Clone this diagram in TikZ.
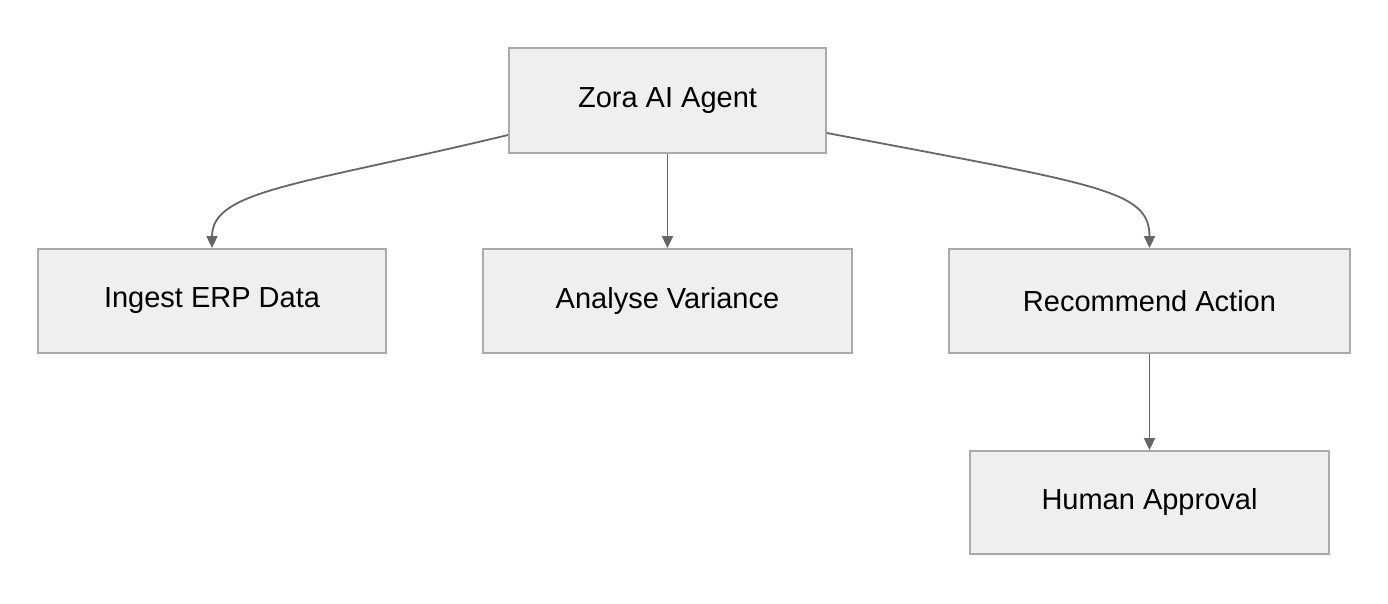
\documentclass[tikz,border=0pt]{standalone}
\usepackage{fontspec}
\setmainfont{Liberation Sans}
\usetikzlibrary{arrows.meta,positioning}
\definecolor{boxfill}{HTML}{EFEFEF}
\definecolor{boxline}{HTML}{AAAAAA}
\definecolor{edgecol}{HTML}{666666}
\begin{document}
\begin{tikzpicture}[x=0.5pt, y=-0.5pt, >={Triangle[length=6pt,width=5.5pt]},
  box/.style={draw=boxline, fill=boxfill, line width=0.9pt, inner sep=0pt, font=\fontsize{14.5}{17}\selectfont},
  link/.style={->, draw=edgecol, line width=0.9pt}]
\useasboundingbox (0,0) rectangle (1388,604);
\node[box, minimum width=158.5pt, minimum height=52.5pt] (agent)  at (667.5,100.5) {Zora AI Agent};
\node[box, minimum width=174pt,   minimum height=52pt]   (ingest) at (212,301)     {Ingest ERP Data};
\node[box, minimum width=184.5pt, minimum height=52pt]   (analyse) at (667.5,301)  {Analyse Variance};
\node[box, minimum width=200.5pt, minimum height=52pt]   (recommend) at (1149.5,301) {Recommend Action};
\node[box, minimum width=179.5pt, minimum height=51.5pt] (approval) at (1149.5,502.5) {Human Approval};

\draw[link] (agent.west |- 0,135) .. controls (300,185) and (212,190) .. (ingest.north);
\draw[link] (agent) -- (analyse);
\draw[link] (agent.east |- 0,133) .. controls (1100,185) and (1149.5,190) .. (recommend.north);
\draw[link] (recommend) -- (approval);
\end{tikzpicture}
\end{document}
